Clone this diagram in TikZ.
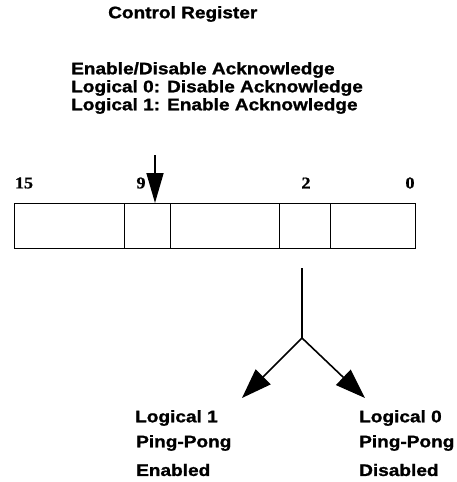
\documentclass[tikz,border=0pt]{standalone}
\usepackage{fontspec}
\setmainfont{Liberation Sans}[FakeStretch=1.14, BoldFeatures={FakeBold=1.2}]
\newfontfamily\numfont{Liberation Serif}[FakeStretch=1.1, BoldFeatures={FakeBold=0.8}]
\usetikzlibrary{arrows.meta}
\begin{document}
\begin{tikzpicture}[x=1pt,y=-1pt,
  lbl/.style={font=\bfseries\fontsize{16.7}{18}\selectfont, anchor=west, inner sep=0pt},
  num/.style={font=\numfont\bfseries\fontsize{16.5}{18}\selectfont, inner sep=0pt},
  cell/.style={draw, line width=1.4pt, minimum height=45pt, inner sep=0pt, anchor=north west},
  bigarrow/.style={line width=1.6pt, -{Triangle[length=30pt,width=17pt]}},
  forkarrow/.style={line width=1.6pt, -{Triangle[length=30pt,width=21pt]}}]
\useasboundingbox (0,0) rectangle (457,482);
\node[lbl] (title) at (108,14) {Control Register};
\node[lbl] (l1) at (71,70) {Enable/Disable Acknowledge};
\node[lbl] (l2) at (71,88) {Logical 0: Disable Acknowledge};
\node[lbl] (l3) at (71,106) {Logical 1: Enable Acknowledge};
\node[num] (n15) at (24,183) {15};
\node[num] (n9) at (141,183) {9};
\node[num] (n2) at (306,183) {2};
\node[num] (n0) at (410,183) {0};
\node[cell, minimum width=110pt] (c1) at (14,203) {};
\node[cell, minimum width=46pt] (c2) at (124,203) {};
\node[cell, minimum width=109pt] (c3) at (170,203) {};
\node[cell, minimum width=51pt] (c4) at (279,203) {};
\node[cell, minimum width=85pt] (c5) at (330,203) {};
\coordinate (top) at (155,155);
\draw[bigarrow] (top) -- (top |- c2.north);
\coordinate (stem) at (302,268);
\coordinate (fork) at (302,338);
\coordinate (tipL) at (242,398);
\coordinate (tipR) at (365,398);
\draw[line width=1.4pt] (stem) -- (fork);
\draw[forkarrow] (fork) -- (tipL);
\draw[forkarrow] (fork) -- (tipR);
\node[lbl] (a1) at (135,418) {Logical 1};
\node[lbl] (a2) at (136,443) {Ping-Pong};
\node[lbl] (a3) at (136,470) {Enabled};
\node[lbl] (b1) at (359,418) {Logical 0};
\node[lbl] (b2) at (359,443) {Ping-Pong};
\node[lbl] (b3) at (359,470) {Disabled};
\end{tikzpicture}
\end{document}
